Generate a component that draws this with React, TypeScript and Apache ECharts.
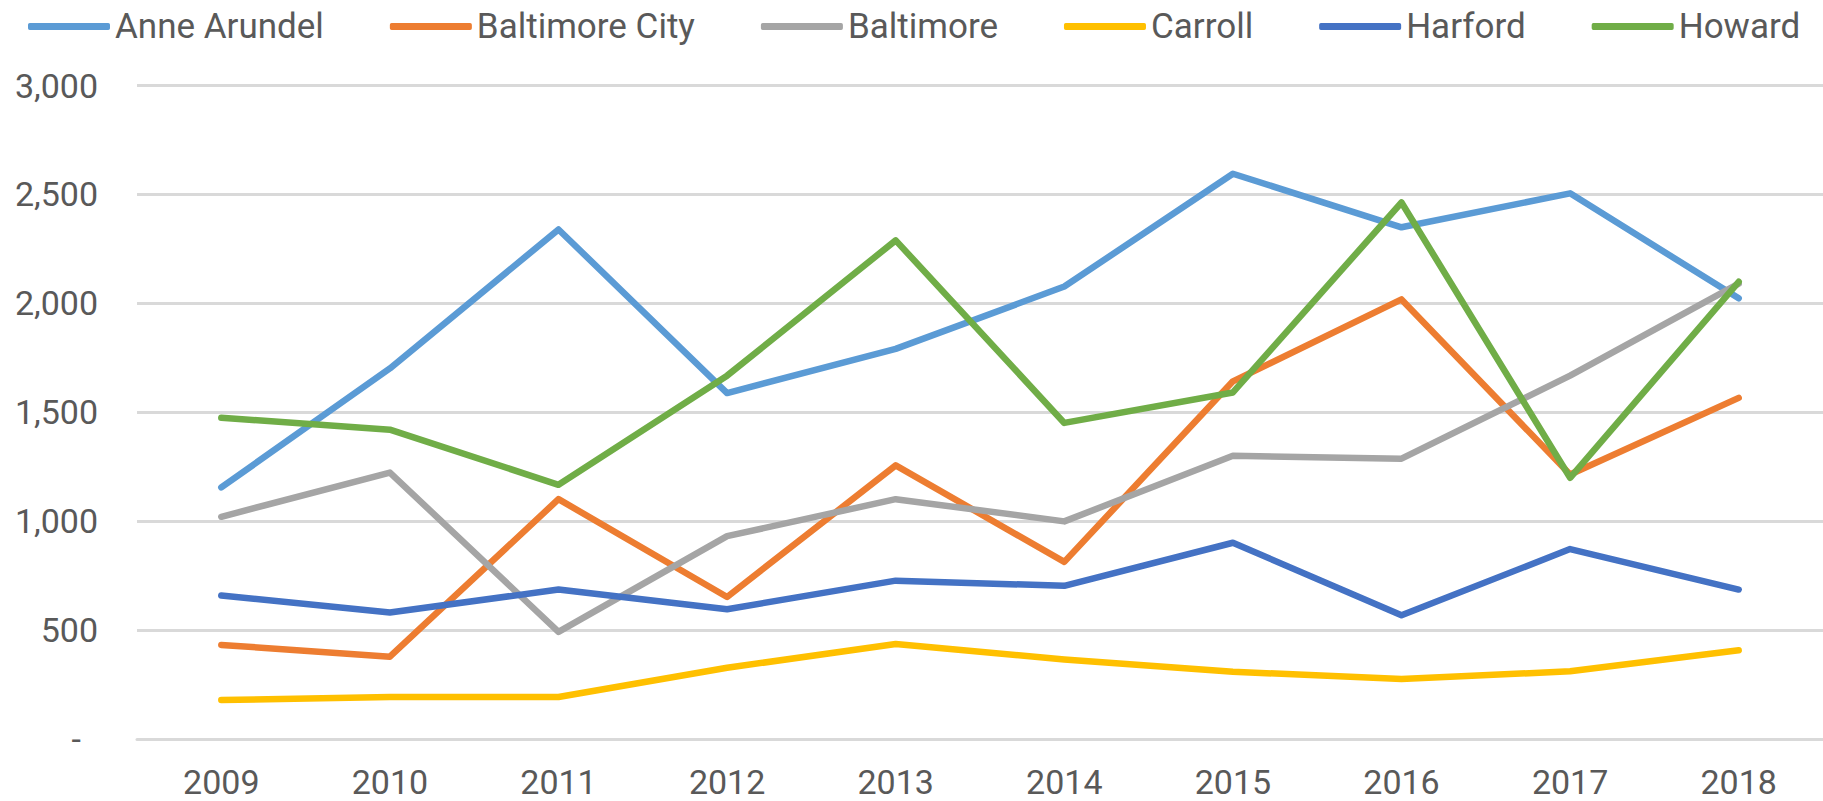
import React, { useEffect, useRef } from "react";
import * as echarts from "echarts";

const years = ["2009", "2010", "2011", "2012", "2013", "2014", "2015", "2016", "2017", "2018"];
const anneArundel = [1155, 1701, 2339, 1588, 1791, 2077, 2595, 2349, 2505, 2023];
const baltimoreCity = [432, 378, 1101, 652, 1256, 813, 1642, 2018, 1214, 1566];
const baltimore = [1020, 1223, 492, 931, 1101, 999, 1300, 1287, 1668, 2090];
const carroll = [179, 193, 193, 327, 436, 365, 309, 275, 311, 407];
const harford = [659, 581, 686, 596, 727, 703, 901, 568, 872, 686];
const howard = [1475, 1420, 1167, 1668, 2289, 1451, 1591, 2463, 1199, 2099];

const seriesNames = ["Anne Arundel", "Baltimore City", "Baltimore", "Carroll", "Harford", "Howard"];
const seriesData = [anneArundel, baltimoreCity, baltimore, carroll, harford, howard];
const colors = ["#5B9BD5", "#ED7D31", "#A5A5A5", "#FFC000", "#4472C4", "#70AD47"];

export default function App() {
  const ref = useRef<HTMLDivElement>(null);
  useEffect(() => {
    if (!ref.current) return;
    const chart = echarts.init(ref.current, null, { renderer: "svg" });
    const font = "Roboto";
    chart.setOption({
      animation: false,
      backgroundColor: "#ffffff",
      color: colors,
      legend: {
        left: 23,
        top: 4,
        icon: "roundRect",
        itemWidth: 82,
        itemHeight: 7,
        itemGap: 66,
        textStyle: { fontFamily: font, fontSize: 35, color: "#595959" },
        data: seriesNames,
      },
      grid: { left: 137, top: 85.5, width: 1695, bottom: 62, containLabel: false },
      xAxis: {
        type: "category",
        data: years,
        boundaryGap: true,
        axisLine: { show: true, lineStyle: { color: "#D9D9D9", width: 3 } },
        axisTick: { show: false },
        axisLabel: { fontFamily: font, fontSize: 34, color: "#595959", margin: 26 },
      },
      yAxis: {
        type: "value",
        min: 0,
        max: 3000,
        interval: 500,
        axisLine: { show: false },
        axisTick: { show: false },
        splitLine: { lineStyle: { color: "#D9D9D9", width: 3 } },
        axisLabel: {
          fontFamily: font,
          fontSize: 34,
          color: "#595959",
          margin: 39,
          formatter: (v: number) => (v === 0 ? "{d|-}" : v.toLocaleString("en-US")),
          rich: { d: { fontFamily: font, fontSize: 34, color: "#595959", padding: [0, 17, 0, 0] } },
        },
      },
      series: seriesNames.map((name, i) => ({
        name,
        type: "line",
        data: seriesData[i],
        symbol: "none",
        lineStyle: { width: 6.5, color: colors[i], cap: "round", join: "round" },
        itemStyle: { color: colors[i] },
      })),
    });
    return () => chart.dispose();
  }, []);
  return (
    <div
      ref={ref}
      style={{ position: "absolute", left: 0, top: 0, width: 1823, height: 801 }}
    />
  );
}
